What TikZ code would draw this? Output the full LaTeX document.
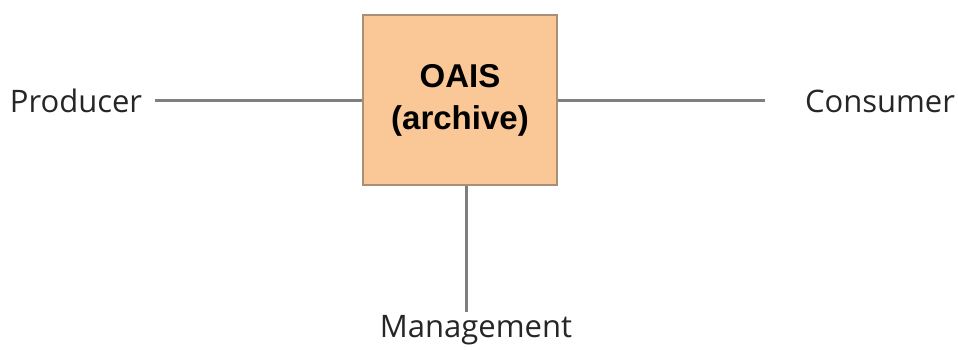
\documentclass[tikz,border=0pt]{standalone}
\usepackage{fontspec}
\setmainfont{Open Sans}
\newfontfamily\boxfont{Liberation Sans}
\definecolor{boxfill}{HTML}{FAC796}
\definecolor{boxline}{HTML}{A89078}
\definecolor{conn}{HTML}{7F7F7F}
\tikzset{
  archivebox/.style={draw=boxline, line width=2pt, fill=boxfill, minimum width=194pt, minimum height=170pt, inner sep=0pt, align=center, font=\boxfont\bfseries\fontsize{33}{42}\selectfont},
  actor/.style={inner sep=0pt, font=\fontsize{31}{36}\selectfont, text=black!85},
  connector/.style={draw=conn, line width=3pt}
}
\begin{document}
\begin{tikzpicture}[x=1pt,y=-1pt]
\useasboundingbox (0,0) rectangle (958,350);
\node[archivebox] (oais) at (460,100) {OAIS\\(archive)};
\node[actor] (prod) at (76,101) {Producer};
\node[actor] (cons) at (880,101) {Consumer};
\node[actor] (mgmt) at (476,330) {Management};
\coordinate (pe) at (155,101);
\coordinate (ce) at (765,101);
\coordinate (me) at (466,312);
\draw[connector] (pe) -- (pe -| oais.west);
\draw[connector] (oais.east |- ce) -- (ce);
\draw[connector] (me |- oais.south) -- (me);
\end{tikzpicture}
\end{document}
